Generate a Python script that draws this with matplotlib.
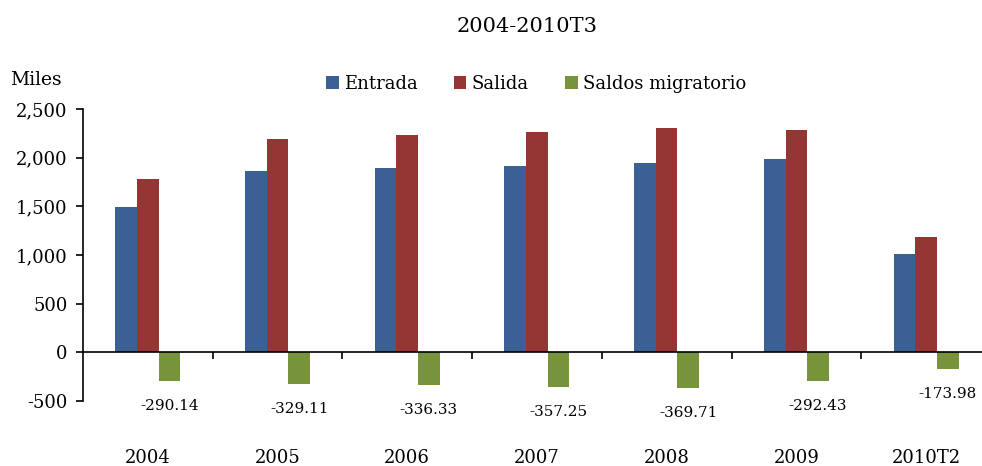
import matplotlib
matplotlib.use("Agg")
import matplotlib.pyplot as plt
import numpy as np

categories = ["2004", "2005", "2006", "2007", "2008", "2009", "2010T2"]
entrada = [1492, 1862, 1893, 1912, 1944, 1985, 1008]
salida = [1782, 2191, 2232, 2266, 2307, 2284, 1183]
saldos = [-290.14, -329.11, -336.33, -357.25, -369.71, -292.43, -173.98]
saldo_labels = ["-290.14", "-329.11", "-336.33", "-357.25", "-369.71", "-292.43", "-173.98"]
yticks = [-500, 0, 500, 1000, 1500, 2000, 2500]
ytick_labels = ["-500", "0", "500", "1,000", "1,500", "2,000", "2,500"]

plt.rcParams['font.family'] = ['DejaVu Serif']

fig = plt.figure(figsize=(9.82, 4.66), dpi=100)
ax = fig.add_axes([0.0845, 0.1395, 0.9246, 0.6266])

x = np.arange(len(categories))
w = 0.167
c_blue = "#3A6094"
c_red = "#943634"
c_green = "#77933C"
ax.bar(x - w, entrada, w, color=c_blue, label="Entrada")
ax.bar(x, salida, w, color=c_red, label="Salida")
ax.bar(x + w, saldos, w, color=c_green, label="Saldos migratorio")

for xi, v, lab in zip(x, saldos, saldo_labels):
    ax.annotate(lab, (xi + w, v), xytext=(0, -25), textcoords="offset pixels",
                ha="center", va="center", fontsize=11)

ax.set_xlim(-0.5, len(categories) - 0.5)
ax.set_ylim(-500, 2500)
ax.set_yticks(yticks)
ax.set_yticklabels(ytick_labels, fontsize=13)

ax.spines['top'].set_visible(False)
ax.spines['right'].set_visible(False)
ax.spines['bottom'].set_position(('data', 0))
ax.spines['left'].set_linewidth(1.2)
ax.spines['bottom'].set_linewidth(1.2)
ax.tick_params(axis='y', direction='out', length=5, width=1.2, pad=6)

ax.set_xticks(np.arange(len(categories) - 1) + 0.5)
ax.set_xticklabels([])
ax.tick_params(axis='x', direction='out', length=5, width=1.2)

trans = matplotlib.transforms.blended_transform_factory(ax.transData, fig.transFigure)
for xi, lab in zip(x, categories):
    ax.text(xi, 1 - 458 / 466, lab, transform=trans, ha="center", va="center", fontsize=13)

fig.text(0.537, 1 - 27 / 466, "2004-2010T3", ha="center", va="center", fontsize=15)
fig.text(0.01, 1 - 80 / 466, "Miles", ha="left", va="center", fontsize=13.5)

leg = ax.legend(loc="center", bbox_to_anchor=(0.546, 1 - 84 / 466), bbox_transform=fig.transFigure,
                ncol=3, frameon=False, fontsize=13, handlelength=0.7, handleheight=0.7,
                handletextpad=0.3, columnspacing=2.0)

fig.savefig("out.png", dpi=100)
